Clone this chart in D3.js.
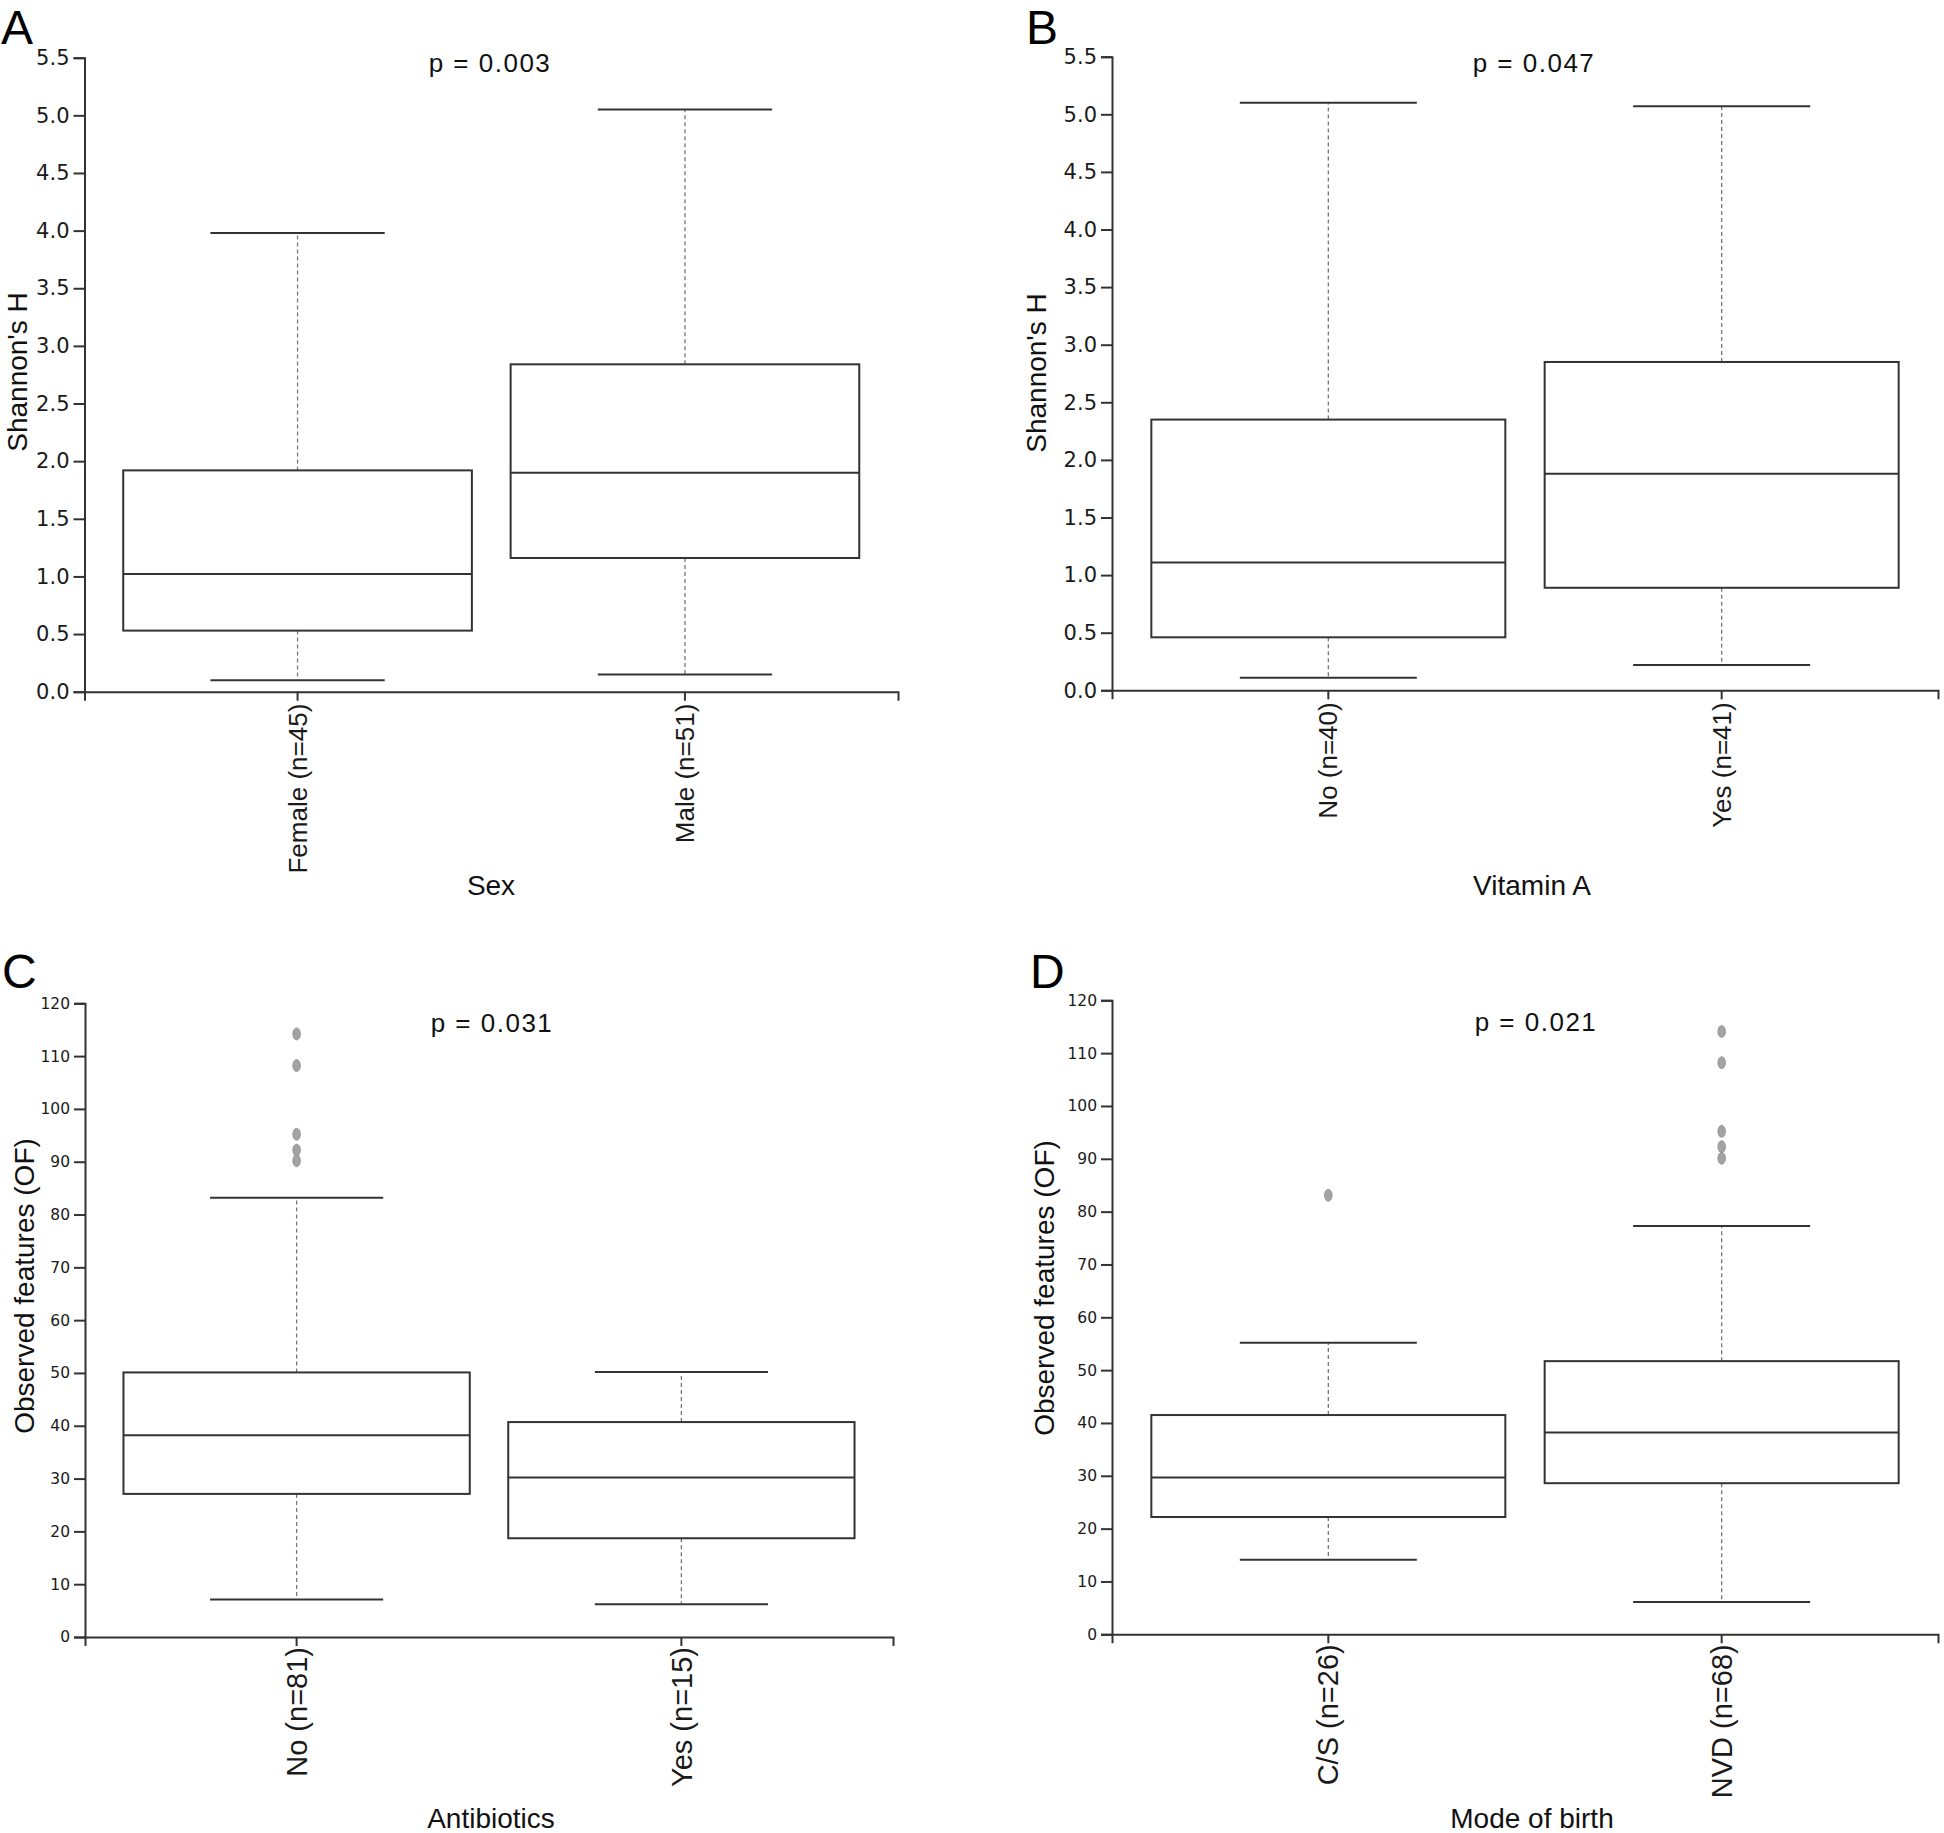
<!DOCTYPE html>
<html>
<head>
<meta charset="utf-8">
<script src="https://cdn.jsdelivr.net/npm/d3@7"></script>
<style>
  html, body { margin: 0; padding: 0; background: #fff; }
  svg { display: block; }
</style>
</head>
<body>
<svg id="chart" width="1944" height="1833"></svg>
<script>
// ---------------- DATA ----------------
// Panel A: Sex (Shannon's H)
const sexCategories = ["Female (n=45)", "Male (n=51)"];
const sexWhiskerLow  = [0.10, 0.15];
const sexQ1          = [0.53, 1.16];
const sexMedian      = [1.02, 1.90];
const sexQ3          = [1.92, 2.84];
const sexWhiskerHigh = [3.98, 5.05];
const sexOutliers    = [[], []];
const sexP = "p = 0.003";

// Panel B: Vitamin A (Shannon's H)
const vitCategories = ["No (n=40)", "Yes (n=41)"];
const vitWhiskerLow  = [0.11, 0.22];
const vitQ1          = [0.46, 0.89];
const vitMedian      = [1.11, 1.88];
const vitQ3          = [2.35, 2.85];
const vitWhiskerHigh = [5.10, 5.07];
const vitOutliers    = [[], []];
const vitP = "p = 0.047";

// Panel C: Antibiotics (Observed features)
const abxCategories = ["No (n=81)", "Yes (n=15)"];
const abxWhiskerLow  = [7.1, 6.2];
const abxQ1          = [27.1, 18.7];
const abxMedian      = [38.2, 30.2];
const abxQ3          = [50.1, 40.7];
const abxWhiskerHigh = [83.2, 50.2];
const abxOutliers    = [[114.2, 108.2, 95.2, 92.2, 90.2], []];
const abxP = "p = 0.031";

// Panel D: Mode of birth (Observed features)
const birthCategories = ["C/S (n=26)", "NVD (n=68)"];
const birthWhiskerLow  = [14.1, 6.1];
const birthQ1          = [22.2, 28.6];
const birthMedian      = [29.7, 38.2];
const birthQ3          = [41.5, 51.7];
const birthWhiskerHigh = [55.2, 77.3];
const birthOutliers    = [[83.1], [114.1, 108.2, 95.2, 92.3, 90.1]];
const birthP = "p = 0.021";

// Axis ticks
const shannonTicks = [0, 0.5, 1, 1.5, 2, 2.5, 3, 3.5, 4, 4.5, 5, 5.5];
const ofTicks = [0, 10, 20, 30, 40, 50, 60, 70, 80, 90, 100, 110, 120];

// ---------------- DRAWING ----------------
const svg = d3.select("#chart");
const SANS = "'Liberation Sans', Arial, sans-serif";
const VERD = "'DejaVu Sans', Verdana, sans-serif";
const INK = "#333";

function panel(cfg) {
  const g = svg.append("g");
  const x = d3.scaleBand().domain(cfg.cats).range([cfg.x0, cfg.x1])
    .paddingInner(0.1).paddingOuter(0.1);
  const y = d3.scaleLinear().domain(cfg.domain).range([cfg.yBot, cfg.yTop]);

  // Y axis
  const ya = g.append("g").attr("transform", `translate(${cfg.x0},0)`)
    .call(d3.axisLeft(y).tickValues(cfg.ticks).tickFormat(d3.format(cfg.fmt))
      .tickSize(11).tickSizeOuter(11).tickPadding(4));
  ya.attr("font-family", VERD).attr("font-size", cfg.tickFont).attr("color", INK);
  ya.selectAll("path,line").attr("stroke-width", 2);
  ya.selectAll("text").attr("fill", "#1a1a1a");

  // X axis
  const xa = g.append("g").attr("transform", `translate(0,${cfg.yBot})`)
    .call(d3.axisBottom(x).tickSize(9).tickSizeOuter(9).tickFormat(""));
  xa.attr("color", INK);
  xa.selectAll("path,line").attr("stroke-width", 2);

  // Category labels (rotated)
  g.selectAll("text.cat").data(cfg.cats).join("text")
    .attr("class", "cat")
    .attr("transform", d => `translate(${x(d) + x.bandwidth() / 2},${cfg.yBot + cfg.catOff}) rotate(-90)`)
    .attr("dy", "0.35em")
    .attr("text-anchor", "end")
    .attr("font-family", SANS)
    .attr("font-size", cfg.catFont)
    .attr("fill", "#1a1a1a")
    .text(d => d);

  const idx = d3.range(cfg.cats.length);
  const cx = i => x(cfg.cats[i]) + x.bandwidth() / 2;
  const bw = x.bandwidth();

  // Whiskers (dashed)
  g.selectAll("line.wu").data(idx).join("line")
    .attr("x1", cx).attr("x2", cx)
    .attr("y1", i => y(cfg.q3[i])).attr("y2", i => y(cfg.hi[i]))
    .attr("stroke", "#777").attr("stroke-width", 1.3).attr("stroke-dasharray", "4,3");
  g.selectAll("line.wl").data(idx).join("line")
    .attr("x1", cx).attr("x2", cx)
    .attr("y1", i => y(cfg.q1[i])).attr("y2", i => y(cfg.lo[i]))
    .attr("stroke", "#777").attr("stroke-width", 1.3).attr("stroke-dasharray", "4,3");

  // Caps
  const capHalf = bw / 4;
  [cfg.hi, cfg.lo].forEach(arr => {
    g.append("g").selectAll("line").data(idx).join("line")
      .attr("x1", i => cx(i) - capHalf).attr("x2", i => cx(i) + capHalf)
      .attr("y1", i => y(arr[i])).attr("y2", i => y(arr[i]))
      .attr("stroke", INK).attr("stroke-width", 2);
  });

  // Boxes
  g.append("g").selectAll("rect").data(idx).join("rect")
    .attr("x", i => x(cfg.cats[i])).attr("width", bw)
    .attr("y", i => y(cfg.q3[i])).attr("height", i => y(cfg.q1[i]) - y(cfg.q3[i]))
    .attr("fill", "#fff").attr("stroke", INK).attr("stroke-width", 2);

  // Medians
  g.append("g").selectAll("line").data(idx).join("line")
    .attr("x1", i => x(cfg.cats[i])).attr("x2", i => x(cfg.cats[i]) + bw)
    .attr("y1", i => y(cfg.med[i])).attr("y2", i => y(cfg.med[i]))
    .attr("stroke", INK).attr("stroke-width", 2);

  // Outliers
  const outs = [];
  cfg.out.forEach((arr, i) => arr.forEach(v => outs.push({ i, v })));
  g.append("g").selectAll("ellipse").data(outs).join("ellipse")
    .attr("cx", d => cx(d.i)).attr("cy", d => y(d.v))
    .attr("rx", 3.8).attr("ry", 6)
    .attr("fill", "#a3a3a3").attr("stroke", "#8f8f8f").attr("stroke-width", 0.8);

  // Y title
  g.append("text")
    .attr("transform", `translate(${cfg.yTitleX},${cfg.yTitleY}) rotate(-90)`)
    .attr("text-anchor", "middle")
    .attr("font-family", SANS).attr("font-size", 28).attr("fill", "#111")
    .text(cfg.yTitle);

  // X title
  g.append("text")
    .attr("x", cfg.xTitleX).attr("y", cfg.xTitleY)
    .attr("text-anchor", "middle")
    .attr("font-family", SANS).attr("font-size", 28).attr("fill", "#111")
    .text(cfg.xTitle);

  // p value
  g.append("text")
    .attr("x", cfg.pX).attr("y", cfg.pY)
    .attr("text-anchor", "middle")
    .attr("font-family", SANS).attr("font-size", 26)
    .attr("letter-spacing", 1.5).attr("fill", "#111")
    .text(cfg.p);

  // Panel letter
  g.append("text")
    .attr("x", cfg.lx).attr("y", cfg.ly)
    .attr("font-family", SANS).attr("font-size", 48).attr("fill", "#000")
    .text(cfg.letter);
}

panel({
  letter: "A", lx: 1, ly: 44,
  cats: sexCategories, lo: sexWhiskerLow, q1: sexQ1, med: sexMedian, q3: sexQ3, hi: sexWhiskerHigh, out: sexOutliers,
  x0: 84.5, x1: 898, yTop: 57.7, yBot: 691.7, domain: [0, 5.5], ticks: shannonTicks, fmt: ".1f",
  tickFont: 21, catFont: 26, catOff: 12,
  yTitle: "Shannon's H", yTitleX: 27, yTitleY: 372,
  xTitle: "Sex", xTitleX: 491, xTitleY: 895,
  p: sexP, pX: 490, pY: 72
});

panel({
  letter: "B", lx: 1026, ly: 44,
  cats: vitCategories, lo: vitWhiskerLow, q1: vitQ1, med: vitMedian, q3: vitQ3, hi: vitWhiskerHigh, out: vitOutliers,
  x0: 1112, x1: 1938, yTop: 56.7, yBot: 690.3, domain: [0, 5.5], ticks: shannonTicks, fmt: ".1f",
  tickFont: 21, catFont: 26, catOff: 12,
  yTitle: "Shannon's H", yTitleX: 1046, yTitleY: 373,
  xTitle: "Vitamin A", xTitleX: 1532, xTitleY: 895,
  p: vitP, pX: 1534, pY: 72
});

panel({
  letter: "C", lx: 2, ly: 988,
  cats: abxCategories, lo: abxWhiskerLow, q1: abxQ1, med: abxMedian, q3: abxQ3, hi: abxWhiskerHigh, out: abxOutliers,
  x0: 85, x1: 893, yTop: 1003.3, yBot: 1637, domain: [0, 120], ticks: ofTicks, fmt: "d",
  tickFont: 15.5, catFont: 29, catOff: 10,
  yTitle: "Observed features (OF)", yTitleX: 34, yTitleY: 1286,
  xTitle: "Antibiotics", xTitleX: 491, xTitleY: 1828,
  p: abxP, pX: 492, pY: 1032
});

panel({
  letter: "D", lx: 1030, ly: 988,
  cats: birthCategories, lo: birthWhiskerLow, q1: birthQ1, med: birthMedian, q3: birthQ3, hi: birthWhiskerHigh, out: birthOutliers,
  x0: 1112, x1: 1938, yTop: 1000.3, yBot: 1634.3, domain: [0, 120], ticks: ofTicks, fmt: "d",
  tickFont: 15.5, catFont: 29, catOff: 10,
  yTitle: "Observed features (OF)", yTitleX: 1054, yTitleY: 1288,
  xTitle: "Mode of birth", xTitleX: 1532, xTitleY: 1828,
  p: birthP, pX: 1536, pY: 1031
});
</script>
</body>
</html>
